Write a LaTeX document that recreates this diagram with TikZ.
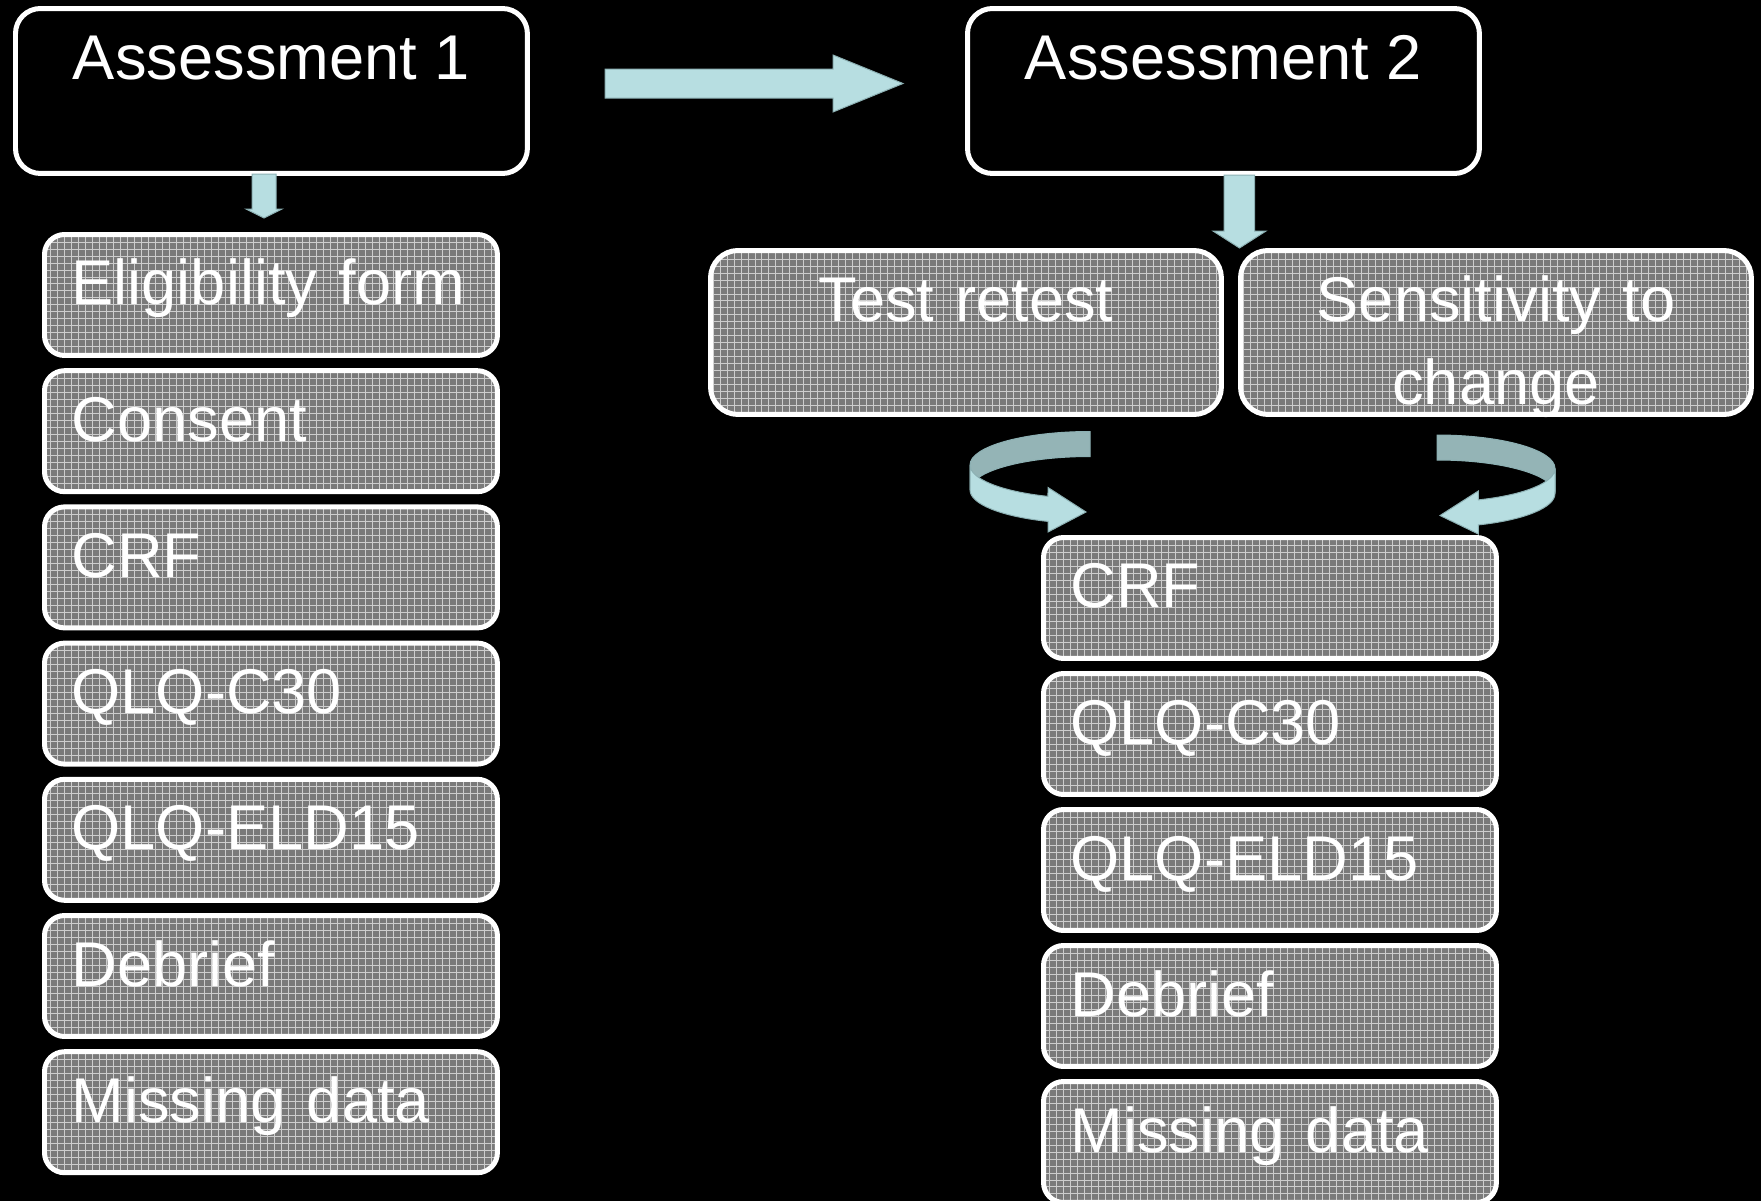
\documentclass[tikz,border=0pt]{standalone}
\usepackage{fontspec}
\setmainfont{Liberation Sans}
\usetikzlibrary{calc}

\definecolor{arrowblue}{RGB}{183,222,225}
\definecolor{arrowedge}{RGB}{140,176,179}
\definecolor{ribbonshade}{RGB}{148,180,182}
\definecolor{boxgray}{RGB}{122,122,122}
\definecolor{gridgray}{RGB}{205,205,205}

\tikzset{
  boxfont/.style={font=\fontsize{36}{47}\selectfont},
  assessbox/.style={boxfont,draw=white,line width=0.1cm,rounded corners=0.5cm,fill=black,text=white,
    anchor=north west,minimum width=10.24cm,minimum height=3.3cm,text height=0.88cm,text depth=1.32cm},
  itembox/.style={boxfont,draw=white,line width=0.1cm,rounded corners=0.4cm,fill=boxgray,text=white,
    anchor=north west,minimum width=9.06cm,minimum height=2.42cm,text width=7.98cm,align=left,
    inner xsep=0.54cm,text height=0.88cm,text depth=0.48cm,
    path picture={\draw[gridgray,line width=0.02cm] (path picture bounding box.north west)
      grid[step=0.14cm] (path picture bounding box.south east);}},
  studybox/.style={itembox,rounded corners=0.55cm,minimum width=10.22cm,minimum height=3.28cm,
    text width=9cm,align=center,inner xsep=0.2cm,text depth=1.30cm},
  blockarrow/.style={fill=arrowblue,draw=arrowedge,line width=0.02cm},
  ribbonback/.style={fill=ribbonshade,draw=arrowedge,line width=0.02cm},
}

\begin{document}
\begin{tikzpicture}[x=0.02cm,y=-0.02cm]

\useasboundingbox (0,0) rectangle (1761,1201);
\fill[black] (0,0) rectangle (1761,1201);

% the two assessments
\node[assessbox] (a1) at (13,6) {Assessment 1};
\node[assessbox] (a2) at (965,6) {Assessment 2};

% first visit
\node[itembox] (elig) at (42,232) {Eligibility form};
\node[itembox] (consent) at (42,368.2) {Consent};
\node[itembox] (crfA) at (42,504.4) {CRF};
\node[itembox] (qlqA) at (42,640.6) {QLQ-C30};
\node[itembox] (eldA) at (42,776.8) {QLQ-ELD15};
\node[itembox] (debriefA) at (42,913) {Debrief};
\node[itembox] (missA) at (42,1049.2) {Missing data};

% second visit
\node[studybox] (retest) at (708,248) {Test retest};
\node[studybox] (sens) at (1238,248) {Sensitivity to\\change};
\node[itembox] (crfB) at (1041,535) {CRF};
\node[itembox] (qlqB) at (1041,671) {QLQ-C30};
\node[itembox] (eldB) at (1041,807) {QLQ-ELD15};
\node[itembox] (debriefB) at (1041,943) {Debrief};
\node[itembox] (missB) at (1041,1079) {Missing data};

% block arrows
\coordinate (nextvisit) at (903,83.5);
\coordinate (downA) at (264,218);
\coordinate (downB) at (1239.5,248);
\draw[blockarrow] (605,69)--(833,69)--(833,55)--(nextvisit)--(833,112)--(833,98)--(605,98)--cycle;
\draw[blockarrow] (252,174)--(252,209)--(246,209)--(downA)--(282,209)--(276,209)--(276,174)--cycle;
\draw[blockarrow] (1224,175)--(1224,231)--(1213,231)--(downB)--(1266,231)--(1254.5,231)--(1254.5,175)--cycle;

% curved arrows into the second list
\coordinate (intoL) at (1086,512);
\coordinate (intoR) at (1440,515.5);
\draw[ribbonback] (1090,431.5) arc[start angle=-90,end angle=-180,x radius=120,y radius=33.5]
  --++(0,25) arc[start angle=180,end angle=270,x radius=120,y radius=33.5]--cycle;
\draw[blockarrow] (970,465) arc[start angle=180,end angle=110.5,x radius=120,y radius=33.5]
  --(1048,487.5)--(intoL)--(1048,532)--(1048,521.4)
  arc[start angle=110.5,end angle=180,x radius=120,y radius=33.5]--cycle;
\draw[ribbonback] (1437,435) arc[start angle=-90,end angle=0,x radius=118,y radius=33.5]
  --++(0,25) arc[start angle=0,end angle=-90,x radius=118,y radius=33.5]--cycle;
\draw[blockarrow] (1555,468.5) arc[start angle=0,end angle=69.5,x radius=118,y radius=33.5]
  --(1478.3,491)--(intoR)--(1478.3,534)--(1478.3,524.9)
  arc[start angle=69.5,end angle=0,x radius=118,y radius=33.5]--cycle;

\end{tikzpicture}
\end{document}
